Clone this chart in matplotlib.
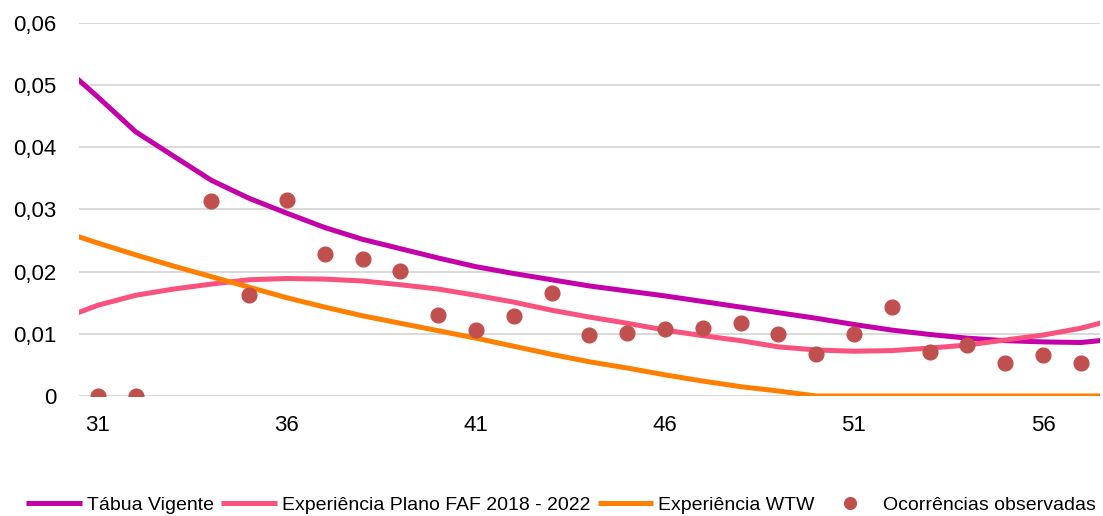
import numpy as np
import matplotlib.pyplot as plt
from matplotlib.ticker import FuncFormatter, FixedLocator

plt.rcParams['font.family'] = ['Liberation Sans', 'DejaVu Sans']

# ages for the fitted curves (one extra on each side so the lines reach the plot edges)
ages_curve = list(range(30, 59))

tabua_vigente = [0.0535, 0.0481, 0.0425, 0.0386, 0.0347, 0.0318, 0.0294, 0.0271,
                 0.0252, 0.0237, 0.0222, 0.0208, 0.0197, 0.0187, 0.0177, 0.0169,
                 0.0161, 0.0152, 0.0143, 0.0134, 0.0125, 0.0115, 0.0106, 0.0099,
                 0.0093, 0.0089, 0.0087, 0.0086, 0.0092]

experiencia_faf = [0.0123, 0.0146, 0.0162, 0.0172, 0.0180, 0.0187, 0.0189, 0.0188,
                   0.0185, 0.0179, 0.0172, 0.0162, 0.0151, 0.0138, 0.0127, 0.0117,
                   0.0106, 0.0097, 0.0089, 0.0079, 0.0074, 0.0072, 0.0073, 0.0077,
                   0.0082, 0.0090, 0.0098, 0.0109, 0.0125]

experiencia_wtw = [0.0266, 0.0246, 0.0227, 0.0209, 0.0192, 0.0175, 0.0158, 0.0143,
                   0.0129, 0.0117, 0.0105, 0.0093, 0.0080, 0.0067, 0.0055, 0.0045,
                   0.0034, 0.0024, 0.0015, 0.0008, 0.0, 0.0, 0.0, 0.0,
                   0.0, 0.0, 0.0, 0.0, 0.0]

# observed rates, no value at age 33
ages_obs = list(range(31, 58))
ocorrencias = [0.0, 0.0, np.nan, 0.0314, 0.0162, 0.0315, 0.0228, 0.0220, 0.0201,
               0.0130, 0.0106, 0.0129, 0.0166, 0.0098, 0.0101, 0.0108, 0.0109,
               0.0117, 0.0100, 0.0068, 0.0100, 0.0143, 0.0071, 0.0082, 0.0053,
               0.0066, 0.0053]

x_ticks = [31, 36, 41, 46, 51, 56]
y_ticks = [0, 0.01, 0.02, 0.03, 0.04, 0.05, 0.06]

fig = plt.figure(figsize=(11.03, 5.16), dpi=100)
ax = fig.add_axes([0.0716, 0.2326, 0.9254, 0.7228])

ax.plot(ages_curve, tabua_vigente, color='#C400A9', lw=3.6, label='Tábua Vigente',
        solid_capstyle='butt', zorder=3)
ax.plot(ages_curve, experiencia_faf, color='#F9527F', lw=3.6,
        label='Experiência Plano FAF 2018 - 2022', solid_capstyle='butt', zorder=3)
ax.plot(ages_curve, experiencia_wtw, color='#FF8000', lw=3.6, label='Experiência WTW',
        solid_capstyle='butt', zorder=3)
ax.plot(ages_obs, ocorrencias, ls='none', marker='o', ms=10.6, color='#C0504D',
        mec='#C0504D', label='Ocorrências observadas', zorder=4)

ax.set_xlim(30.5, 57.5)
ax.set_ylim(0, 0.06)
ax.xaxis.set_major_locator(FixedLocator(x_ticks))
ax.yaxis.set_major_locator(FixedLocator(y_ticks))
ax.yaxis.set_major_formatter(FuncFormatter(lambda v, p: '0' if v == 0 else f'{v:.2f}'.replace('.', ',')))

ax.grid(axis='y', color='#D9D9D9', lw=1.4, zorder=0)
ax.set_axisbelow(True)
for s in ax.spines.values():
    s.set_visible(False)
ax.tick_params(axis='both', length=0, labelsize=16, colors='black')
ax.tick_params(axis='y', pad=16)
ax.tick_params(axis='x', pad=13.5)

leg = fig.legend(loc='center', bbox_to_anchor=(0.5086, 0.021), ncol=4, frameon=False,
                 fontsize=14, handlelength=2.87, handletextpad=0.26, columnspacing=0.36,
                 borderaxespad=0, borderpad=0, markerscale=0.8)

fig.savefig('out.png', dpi=100)
